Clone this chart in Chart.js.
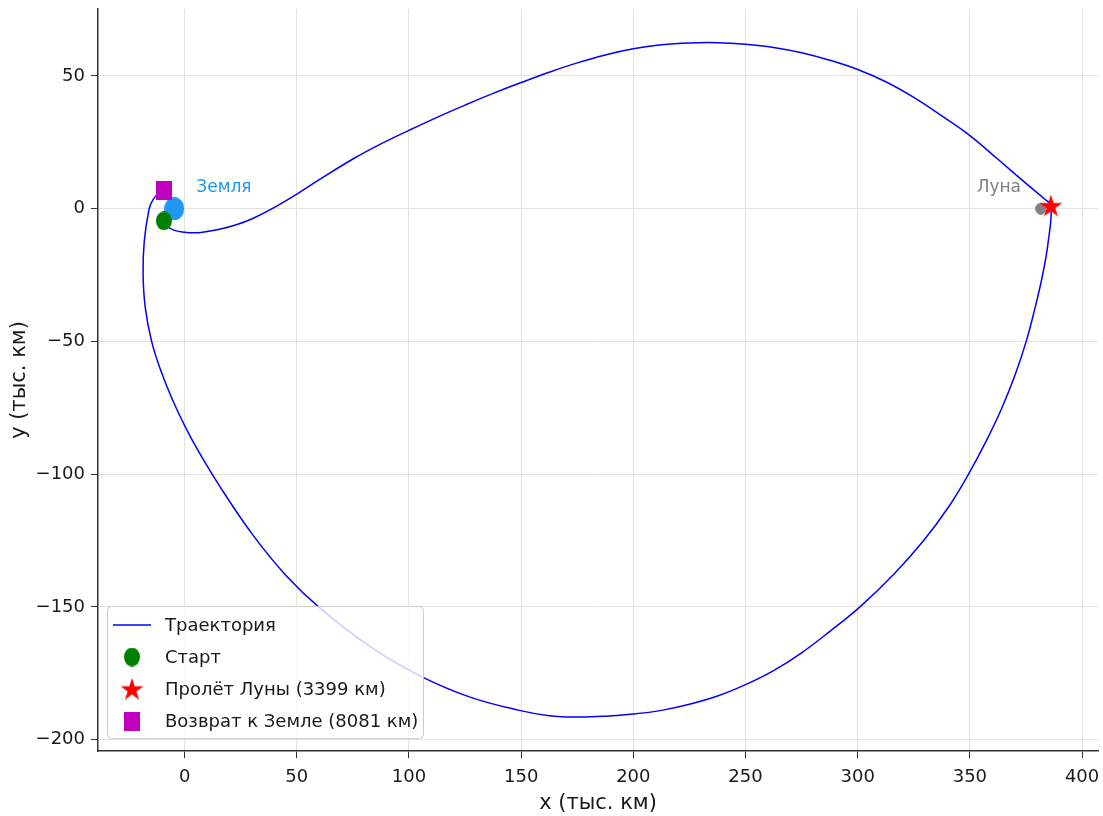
<!DOCTYPE html>
<html>
<head>
<meta charset="utf-8">
<script src="https://cdn.jsdelivr.net/npm/chart.js"></script>
<style>
  body { margin: 0; background: #fff; }
  #wrap { width: 1103px; height: 816px; }
</style>
</head>
<body>
<div id="wrap"><canvas id="orbitChart" width="1103" height="816"></canvas></div>
<script>
// Trajectory (thousand km)
const trajX = [-9.2, -7.5, -4.5, 0, 4, 8, 15.6, 23, 30.4, 38.8, 50, 60, 75, 87.5, 100,
    112.5, 125, 137.5, 150, 162.5, 175, 187.5, 200, 212.5, 225, 237.5, 250, 262.5, 275, 287.5,
    300, 312.5, 325, 337.5, 350, 362.5, 375, 383, 386.1,
    384.9, 382.4, 379.0, 375.1, 370.2, 364.3, 357.3, 349.4, 340.4, 329.4, 316.3, 301.0,
    287.5, 275, 262.5, 250, 237.5, 225, 212.5, 200, 187.5, 175, 162.5, 149.2,
    126.9, 104.7, 82.4, 60.1, 45.3, 30.4, 15.6, 5.9, 0.6, -5.4, -10.7, -14.7, -17.5, -18.5, -18.0,
    -15.8, -14.0, -11.5, -9.0];
const trajY = [-4.6, -6.8, -8.2, -8.9, -9.1, -8.9, -7.8, -6.1, -3.7, -0.1, 5.5, 10.9, 18.7, 24.4, 29.5,
    34.4, 39.0, 43.4, 47.5, 51.4, 54.9, 57.9, 60.2, 61.7, 62.4, 62.5, 61.9, 60.7, 58.7, 55.9,
    52.4, 47.8, 41.9, 34.9, 27.5, 18.6, 9.5, 3.8, 1.1,
    -12.5, -25, -37.5, -50, -62.5, -75, -87.5, -100, -112.5, -125, -137.5, -150,
    -159.3, -167.3, -174.0, -179.3, -183.6, -186.7, -189.0, -190.4, -191.2, -191.5, -191.0, -189.0,
    -183.9, -175.9, -164.8, -150.3, -138.3, -122.9, -104.5, -91.0, -82.7, -72.0, -60.8, -50.0, -37.5, -25.0, -12.5,
    0, 3.5, 5.8, 7.0];

// Bodies and events
const earthPos = [-4.6, 0];
const moonPos = [381.6, 0];
const startPos = [-9.2, -4.6];
const flybyPos = [386.1, 1.1];
const returnPos = [-9.0, 7.0];

const seriesLabels = ['Траектория', 'Старт', 'Пролёт Луны (3399 км)', 'Возврат к Земле (8081 км)'];
const bodyLabels = ['Земля', 'Луна'];
const xTicks = [0, 50, 100, 150, 200, 250, 300, 350, 400];
const yTicks = [-200, -150, -100, -50, 0, 50];

const FONT = 'DejaVu Sans, sans-serif';

// little canvases used as marker shapes
function makeShape(w, h, color, kind) {
    const c = document.createElement('canvas');
    c.width = w; c.height = h;
    const g = c.getContext('2d');
    g.fillStyle = color;
    g.beginPath();
    if (kind === 'ellipse') {
        g.ellipse(w / 2, h / 2, w / 2, h / 2, 0, 0, Math.PI * 2);
    } else if (kind === 'rect') {
        g.rect(0, 0, w, h);
    } else {
        const R = w / 2, r = R * 0.382;
        for (let i = 0; i < 10; i++) {
            const a = -Math.PI / 2 + i * Math.PI / 5;
            const rad = i % 2 === 0 ? R : r;
            const px = w / 2 + rad * Math.cos(a), py = h / 2 + rad * Math.sin(a) + 1;
            if (i === 0) g.moveTo(px, py); else g.lineTo(px, py);
        }
        g.closePath();
    }
    g.fill();
    return c;
}

const earthShape = makeShape(20, 23, '#2196f3', 'ellipse');
const moonShape = makeShape(11, 12, '#808080', 'ellipse');
const startShape = makeShape(16, 19, '#008000', 'ellipse');
const starShape = makeShape(24, 23, '#ff0000', 'star');
const squareShape = makeShape(16, 19, '#bf00bf', 'rect');

const toPts = (xs, ys) => xs.map((x, i) => ({ x: x, y: ys[i] }));

// legend + body labels drawn over the data
const overlayPlugin = {
    id: 'overlay',
    afterDatasetsDraw(chart) {
        const { ctx, chartArea, scales } = chart;
        const xs = scales.x, ys = scales.y;
        ctx.save();
        ctx.font = '17px ' + FONT;
        ctx.textBaseline = 'alphabetic';
        ctx.fillStyle = '#2196f3';
        ctx.textAlign = 'left';
        ctx.fillText(bodyLabels[0], xs.getPixelForValue(earthPos[0] + 9.8), ys.getPixelForValue(earthPos[1] + 6.4));
        ctx.fillStyle = '#808080';
        ctx.textAlign = 'right';
        ctx.fillText(bodyLabels[1], xs.getPixelForValue(moonPos[0] - 8.8), ys.getPixelForValue(moonPos[1] + 6.3));

        // legend box
        const bx = chartArea.left + 9, bw = 316, bh = 132;
        const by = chartArea.bottom - 13 - bh;
        ctx.beginPath();
        ctx.roundRect(bx + 0.5, by + 0.5, bw, bh, 4);
        ctx.fillStyle = 'rgba(255,255,255,0.8)';
        ctx.fill();
        ctx.strokeStyle = '#cccccc';
        ctx.lineWidth = 1;
        ctx.stroke();

        const handles = [null, startShape, starShape, squareShape];
        ctx.font = '18px ' + FONT;
        ctx.textAlign = 'left';
        ctx.textBaseline = 'middle';
        seriesLabels.forEach((lab, i) => {
            const cy = by + 19 + i * 32;
            const hx = bx + 25;
            if (i === 0) {
                ctx.beginPath();
                ctx.moveTo(bx + 6, cy);
                ctx.lineTo(bx + 44, cy);
                ctx.strokeStyle = '#0000ff';
                ctx.lineWidth = 1.5;
                ctx.stroke();
            } else {
                const s = handles[i];
                ctx.drawImage(s, hx - s.width / 2, cy - s.height / 2);
            }
            ctx.fillStyle = '#1a1a1a';
            ctx.fillText(lab, bx + 58, cy + 1);
        });
        ctx.restore();
    }
};

const ctx = document.getElementById('orbitChart').getContext('2d');
new Chart(ctx, {
    type: 'scatter',
    data: {
        datasets: [
            {
                label: seriesLabels[0],
                data: toPts(trajX, trajY),
                showLine: true,
                borderColor: '#0000ff',
                borderWidth: 1.5,
                pointRadius: 0,
                tension: 0.4,
                order: 4
            },
            { label: bodyLabels[0], data: [{ x: earthPos[0], y: earthPos[1] }], pointStyle: earthShape, order: 6 },
            { label: bodyLabels[1], data: [{ x: moonPos[0], y: moonPos[1] }], pointStyle: moonShape, order: 5 },
            { label: seriesLabels[1], data: [{ x: startPos[0], y: startPos[1] }], pointStyle: startShape, order: 3 },
            { label: seriesLabels[2], data: [{ x: flybyPos[0], y: flybyPos[1] }], pointStyle: starShape, order: 2 },
            { label: seriesLabels[3], data: [{ x: returnPos[0], y: returnPos[1] }], pointStyle: squareShape, order: 1 }
        ]
    },
    options: {
        responsive: false,
        animation: false,
        events: [],
        layout: { padding: { top: 9, right: 4, left: 0, bottom: 0 } },
        plugins: {
            legend: { display: false },
            tooltip: { enabled: false }
        },
        scales: {
            x: {
                type: 'linear',
                min: -38.6,
                max: 407.1,
                afterFit: s => { s.height = 65; s.paddingLeft = 0; s.paddingRight = 0; },
                afterBuildTicks: s => { s.ticks = xTicks.map(v => ({ value: v })); },
                ticks: { font: { family: FONT, size: 18 }, color: '#1a1a1a', padding: 9 },
                grid: { color: '#e2e2e2', tickColor: '#333', tickLength: 7, lineWidth: 1 },
                border: { display: true, color: '#333', width: 1.5 },
                title: { display: true, text: 'x (тыс. км)', font: { family: FONT, size: 21 }, color: '#1a1a1a', padding: { top: 2, bottom: 0 } }
            },
            y: {
                type: 'linear',
                min: -204.3,
                max: 75.2,
                afterFit: s => { s.width = 98; s.paddingTop = 0; s.paddingBottom = 0; },
                afterBuildTicks: s => { s.ticks = yTicks.map(v => ({ value: v })); },
                ticks: { font: { family: FONT, size: 18 }, color: '#1a1a1a', padding: 6,
                    callback: v => v < 0 ? '\u2212' + Math.abs(v) : String(v) },
                grid: { color: '#e2e2e2', tickColor: '#333', tickLength: 7, lineWidth: 1 },
                border: { display: true, color: '#333', width: 1.5 },
                title: { display: true, text: 'y (тыс. км)', font: { family: FONT, size: 21 }, color: '#1a1a1a', padding: { top: 7, bottom: 2 } }
            }
        }
    },
    plugins: [overlayPlugin]
});
</script>
</body>
</html>
